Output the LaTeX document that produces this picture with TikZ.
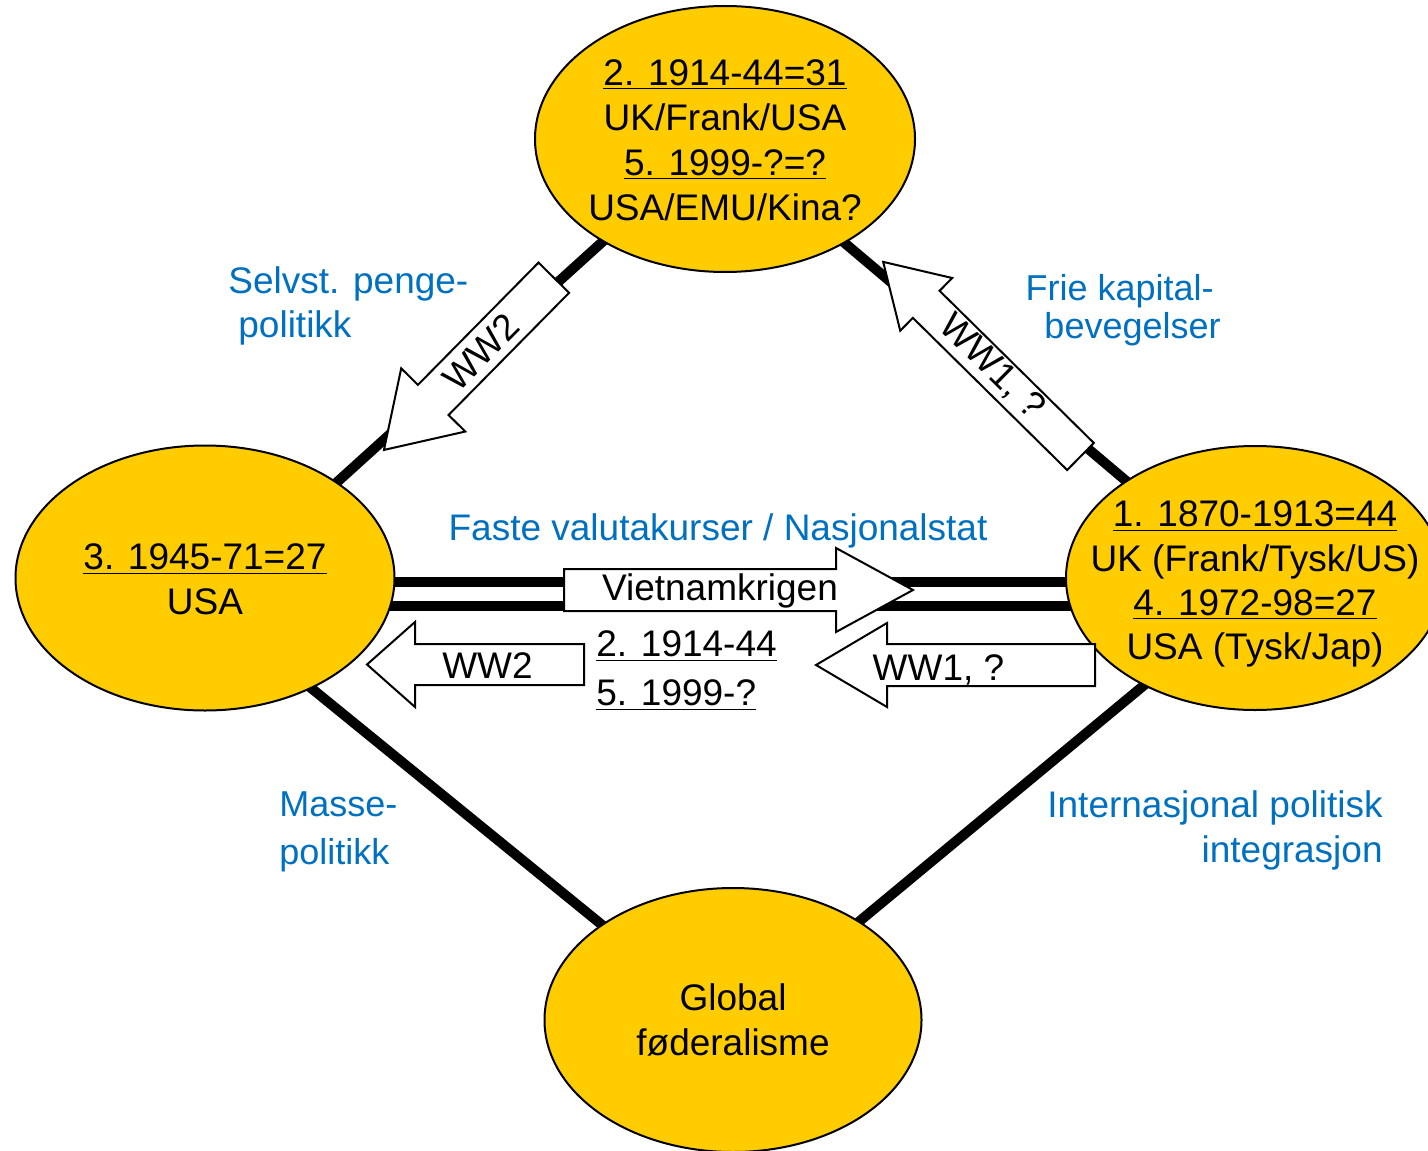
\documentclass[tikz,border=0pt]{standalone}
\usepackage{fontspec}
\setmainfont{Liberation Sans}
\usetikzlibrary{shapes.geometric,backgrounds}
\definecolor{gold}{HTML}{FFCC00}
\definecolor{lblue}{HTML}{0070C0}
% #1 name, #2 tail x, #3 tail y, #4 angle, #5 length, #6 shaft half width, #7 head half width, #8 head length
\newcommand{\blkarrow}[8]{%
  \begin{scope}[shift={(#2,#3)}, rotate=#4]
    \draw[arrowbox] (0,-#6) -- ({#5-#8},-#6) -- ({#5-#8},-#7) -- (#5,0)
      -- ({#5-#8},#7) -- ({#5-#8},#6) -- (0,#6) -- cycle;
    \coordinate (#1) at (#5,0);
  \end{scope}}
\begin{document}
\begin{tikzpicture}[x=0.5pt,y=-0.5pt,
  ellnode/.style={ellipse, draw=black, line width=1pt, fill=gold, inner sep=0pt},
  etext/.style={align=center, inner sep=0pt, anchor=north, font=\fontsize{18.5}{22.5}\selectfont},
  conn/.style={line width=5pt, shorten <=-8pt, shorten >=-8pt},
  arrowbox/.style={draw=black, fill=white, line width=1pt},
  atext/.style={inner sep=0pt, font=\fontsize{18.5}{22.5}\selectfont},
  lbl/.style={text=lblue, inner sep=0pt}]
\useasboundingbox (0,0) rectangle (1428,1150);

% ellipses
\node[ellnode, minimum width=190pt, minimum height=133pt] (nTop) at (725,139) {};
\node[ellnode, minimum width=189.5pt, minimum height=132.5pt] (nLeft) at (205,578) {};
\node[ellnode, minimum width=189pt, minimum height=132pt] (nRight) at (1255,578) {};
\node[ellnode, minimum width=188.5pt, minimum height=132pt] (nBot) at (733,1020) {};

% ellipse texts
\node[etext] (tTop) at (725,59.5) {\underline{2. 1914-44=31}\\UK/Frank/USA\\\underline{5. 1999-?=?}\\USA/EMU/Kina?};
\node[etext] (tLeft) at (205,543.5) {\underline{3. 1945-71=27}\\USA};
\node[etext, font=\fontsize{18.5}{22.2}\selectfont] (tRight) at (1255,500.5) {\underline{1. 1870-1913=44}\\UK (Frank/Tysk/US)\\\underline{4. 1972-98=27}\\USA (Tysk/Jap)};
\node[etext] (tBot) at (733,983) {Global\\føderalisme};

% connectors
\begin{pgfonlayer}{background}
\fill[white] (0,0) rectangle (1428,1150);
\draw[conn] (nTop.220.6) -- (nLeft.36);
\draw[conn] (nTop.319.9) -- (nRight.143.5);
\draw[conn] (nLeft.314.2) -- (nBot.144.5);
\draw[conn] (nRight.224.2) -- (nBot.38.7);
\draw[line width=5pt] ([yshift=-2pt]nLeft.center) -- ([yshift=-2pt]nRight.center);
\draw[line width=5pt] ([yshift=-13.75pt]nLeft.center) -- ([yshift=-13.75pt]nRight.center);
\end{pgfonlayer}

% block arrows
\blkarrow{aWWtwoD}{553.8}{277.7}{225.4}{241.9}{21.5}{45}{70.2}
\blkarrow{aWWoneD}{1080.5}{456.5}{135.4}{277.2}{19}{37}{60.5}
\blkarrow{aViet}{564}{590}{0}{349}{21}{42}{77}
\blkarrow{aWWtwoH}{584}{664.5}{180}{217}{20.5}{42.5}{48}
\blkarrow{aWWoneH}{1095}{665}{180}{279}{21}{42}{71}

\node[atext, rotate=45.4] (tWWtwoD) at (481,352) {WW2};
\node[atext, rotate=-44.6] (tWWoneD) at (992,367) {WW1, ?};
\node[atext, anchor=base] (tViet) at (720,600) {Vietnamkrigen};
\node[atext, anchor=base] (tWWtwoH) at (487.5,678) {WW2};
\node[atext, anchor=base] (tWWoneH) at (938.5,680) {WW1, ?};

\node[anchor=north west, align=left, inner sep=0pt, font=\fontsize{18.5}{24.5}\selectfont] (tDates) at (596,630.5) {\underline{2. 1914-44}\\\underline{5. 1999-?}};

% blue labels
\node[lbl, anchor=north west, align=left, font=\fontsize{18.5}{22}\selectfont] (lSelv) at (228,266) {Selvst. penge-\\\makebox[5pt]{}politikk};
\node[lbl, anchor=north east, align=right, font=\fontsize{18}{19}\selectfont] (lFrie) at (1221,274) {Frie kapital-\makebox[3.5pt]{}\\bevegelser};
\node[lbl, anchor=base, font=\fontsize{18.5}{22.5}\selectfont] (lFaste) at (718,540) {Faste valutakurser / Nasjonalstat};
\node[lbl, anchor=north west, align=left, font=\fontsize{18}{24}\selectfont] (lMasse) at (279,791) {Masse-\\politikk};
\node[lbl, anchor=north east, align=right, font=\fontsize{18.5}{22.5}\selectfont] (lInt) at (1383,790.5) {Internasjonal politisk\\integrasjon};
\end{tikzpicture}
\end{document}
